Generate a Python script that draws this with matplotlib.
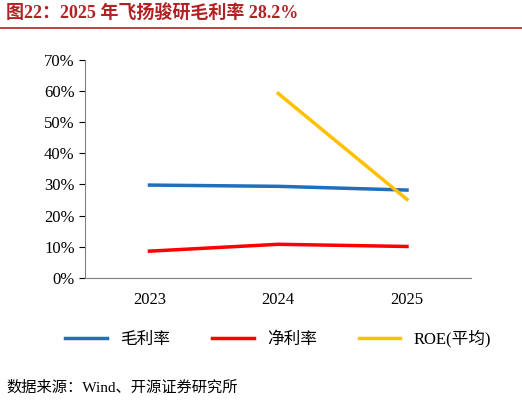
import matplotlib.pyplot as plt
from matplotlib.lines import Line2D

plt.rcParams['font.family'] = ['Liberation Serif', 'Noto Sans CJK SC', 'DejaVu Sans']

years = ["2023", "2024", "2025"]
gross_margin = [29.8, 29.4, 28.2]
net_margin = [8.6, 10.8, 10.1]
roe_years = ["2024", "2025"]
roe = [59.2, 25.2]
yticks = [0, 10, 20, 30, 40, 50, 60, 70]

fig = plt.figure(figsize=(5.22, 4.04), dpi=100)
ax = fig.add_axes([0.163, 0.312, 0.74, 0.54])

x = list(range(len(years)))
ax.plot(x, gross_margin, color="#1F6FBF", lw=2.5, label="毛利率")
ax.plot(x, net_margin, color="#FF0000", lw=2.5, label="净利率")
ax.plot([years.index(y) for y in roe_years], roe, color="#FFC000", lw=2.5, label="ROE(平均)")

ax.set_xlim(-0.5, 2.5)
ax.set_ylim(0, 70)
ax.set_yticks(yticks)
ax.set_yticklabels([f"{v}%" for v in yticks], fontsize=12)
ax.set_xticks(x)
ax.set_xticklabels(years, fontsize=12)
ax.tick_params(axis="x", length=0, pad=10)
ax.tick_params(axis="y", length=4, direction="out")
for s in ["top", "right"]:
    ax.spines[s].set_visible(False)
ax.spines["left"].set_color("#808080")
ax.spines["bottom"].set_color("#808080")

ax.legend(loc="upper center", bbox_to_anchor=(0.5, -0.17), ncol=3, frameon=False,
          fontsize=12, handlelength=2.5, columnspacing=2.5)

fig.text(0.012, 0.965, "图22：2025 年飞扬骏研毛利率 28.2%", color="#B22222",
         fontsize=13, fontweight="bold", va="center")
fig.add_artist(Line2D([0.0, 1.0], [0.93, 0.93], color="#B22222", lw=1.2))
fig.text(0.012, 0.04, "数据来源：Wind、开源证券研究所", fontsize=11, va="center")

fig.savefig("out.png", dpi=100)
